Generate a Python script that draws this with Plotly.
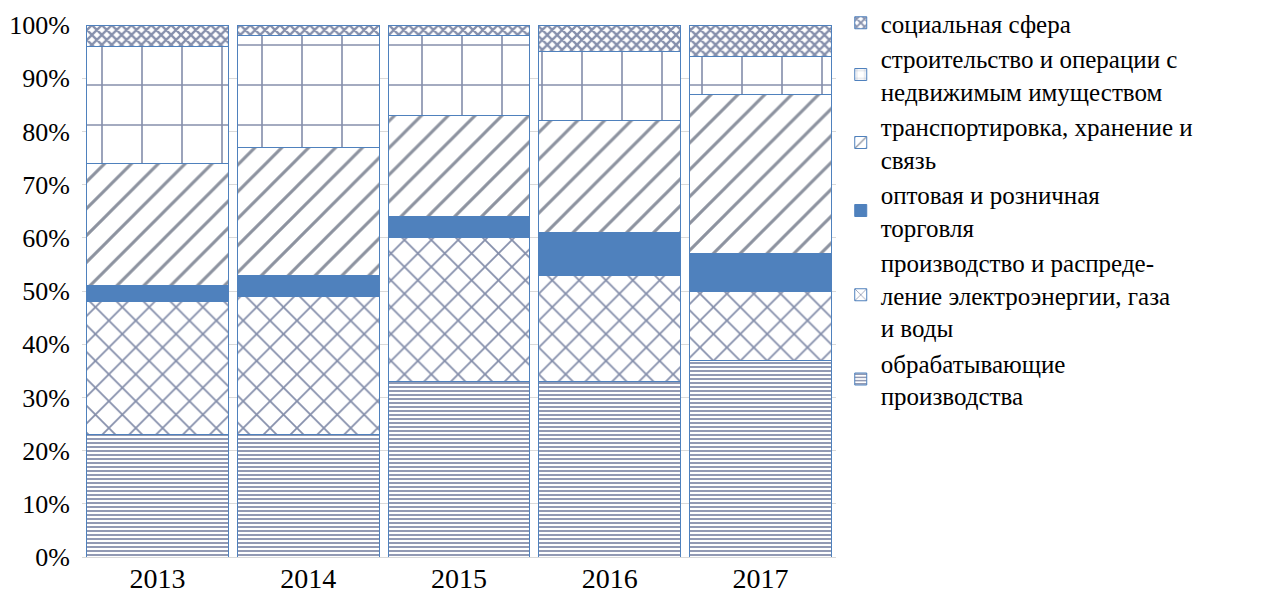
import plotly.graph_objects as go

years = ["2013", "2014", "2015", "2016", "2017"]

manufacturing = [23, 23, 33, 33, 37]
electricity = [25, 26, 27, 20, 13]
trade = [3, 4, 4, 8, 7]
transport = [23, 24, 19, 21, 30]
construction = [22, 21, 15, 13, 7]
social = [4, 2, 2, 5, 6]

names = [
    "обрабатывающие<br>производства",
    "производство и распреде-<br>ление электроэнергии, газа<br>и воды",
    "оптовая и розничная<br>торговля",
    "транспортировка, хранение и<br>связь",
    "строительство и операции с<br>недвижимым имуществом",
    "социальная сфера",
]
series = [manufacturing, electricity, trade, transport, construction, social]

NAVY = "#0C1F58"
BLUE = "#4F81BD"
styles = [
    dict(color="white", pattern=dict(shape="-", size=4, solidity=0.45, fgcolor=NAVY, bgcolor="white", fillmode="overlay")),
    dict(color="white", pattern=dict(shape="x", size=19, solidity=0.18, fgcolor=NAVY, bgcolor="white", fillmode="overlay")),
    dict(color=BLUE),
    dict(color="white", pattern=dict(shape="/", size=19, solidity=0.16, fgcolor="#1A2540", bgcolor="white", fillmode="overlay")),
    dict(color="white", pattern=dict(shape="+", size=40, solidity=0.08, fgcolor=NAVY, bgcolor="white", fillmode="overlay")),
    dict(color="white", pattern=dict(shape="x", size=7, solidity=0.55, fgcolor=NAVY, bgcolor="white", fillmode="overlay")),
]

fig = go.Figure()
for name, vals, st in zip(names, series, styles):
    fig.add_trace(go.Bar(
        x=years,
        y=[v / 100 for v in vals],
        name=name,
        marker=dict(line=dict(color=BLUE, width=1), **st),
        hoverinfo="skip",
    ))

FONT = "Liberation Serif"
fig.update_layout(
    barmode="stack",
    bargap=0.06,
    width=1270,
    height=593,
    margin=dict(l=82, r=434, t=25, b=36, autoexpand=False),
    paper_bgcolor="white",
    plot_bgcolor="white",
    font=dict(family=FONT, size=25, color="black"),
    showlegend=True,
    legend=dict(
        xref="container", yref="container",
        x=0.662, xanchor="left", y=1.0, yanchor="top",
        traceorder="reversed",
        font=dict(family=FONT, size=25, color="black"),
        itemwidth=30,
        maxheight=1,
        bgcolor="rgba(0,0,0,0)",
    ),
    xaxis=dict(
        showgrid=False,
        showline=True,
        linecolor="#D9D9D9",
        linewidth=1,
        tickfont=dict(family=FONT, size=28, color="black"),
        ticks="",
        ticklabelstandoff=-4,
        automargin=False,
    ),
    yaxis=dict(
        range=[0, 1],
        dtick=0.1,
        tickformat=".0%",
        showgrid=True,
        gridcolor="#D9D9D9",
        gridwidth=1,
        zeroline=False,
        ticks="outside",
        ticklen=6,
        tickcolor="rgba(0,0,0,0)",
        tickfont=dict(family=FONT, size=26, color="black"),
        automargin=False,
    ),
)

fig.write_html("out.html", config={"displayModeBar": False})

with open("out.html", encoding="utf-8") as f:
    html = f.read()
html = html.replace("<body>", '<body style="margin:0;padding:0;overflow:hidden">', 1)
with open("out.html", "w", encoding="utf-8") as f:
    f.write(html)
